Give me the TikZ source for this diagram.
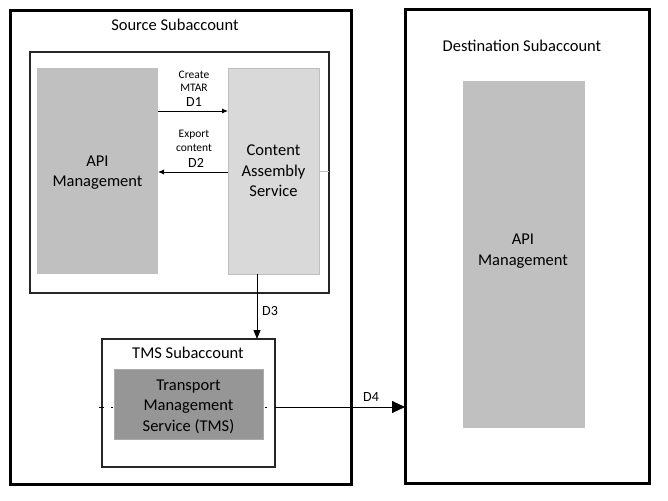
\documentclass[tikz,border=0pt]{standalone}
\usepackage{fontspec}
\setmainfont{Carlito}
\usetikzlibrary{arrows.meta}
\definecolor{apigray}{RGB}{192,192,192}
\definecolor{casgray}{RGB}{217,217,217}
\definecolor{casline}{RGB}{190,190,190}
\definecolor{tmsgray}{RGB}{150,150,150}
\definecolor{tmsline}{RGB}{170,170,170}
\begin{document}
\begin{tikzpicture}[x=1pt,y=-1pt,
  every node/.style={inner sep=0pt,outer sep=0pt},
  bigbox/.style={draw=black,line width=3pt,anchor=north west},
  midbox/.style={draw=black!85,line width=1.2pt,anchor=north west},
  block/.style={anchor=north west},
  maintext/.style={align=center,font=\fontsize{16.5}{20.5}\selectfont},
  smalltext/.style={align=center,font=\fontsize{11.5}{13.5}\selectfont},
  dtext/.style={font=\fontsize{14}{16}\selectfont},
  smallarrow/.style={line width=0.9pt,-{Latex[length=6pt,width=5pt]}},
  bigarrow/.style={line width=0.9pt,-{Triangle[length=13pt,width=12pt]}},
  midarrow/.style={line width=0.9pt,-{Triangle[length=9pt,width=7pt]}},
  stub/.style={line width=0.8pt,draw=black}]
\useasboundingbox (0,0) rectangle (668,500);
% outer subaccounts
\node[bigbox,minimum width=341pt,minimum height=473pt] (src) at (10,11) {};
\node[bigbox,minimum width=244pt,minimum height=473pt] (dst) at (405,10) {};
\node[maintext] (srctitle) at (175,24.5) {Source Subaccount};
\node[maintext] (dsttitle) at (522,45.5) {Destination Subaccount};
% inner box
\node[midbox,minimum width=299pt,minimum height=241pt] (inner) at (30,52) {};
\node[block,fill=apigray,minimum width=121pt,minimum height=206pt] (api) at (37,68) {};
\node[maintext] (apitext) at (97.5,172.5) {API\\Management};
\node[block,fill=casgray,draw=casline,line width=0.8pt,minimum width=91pt,minimum height=206pt] (cas) at (228,68) {};
\node[maintext] (castext) at (273.5,171) {Content\\Assembly\\Service};
% TMS subaccount
\node[midbox,line width=1.5pt,minimum width=173pt,minimum height=128pt] (tmsacc) at (102,339) {};
\node[maintext] (tmstitle) at (188,353) {TMS Subaccount};
% stubs of hidden line
\coordinate (y407) at (0,407);
\draw[stub] (99,407) -- (104,407);
\draw[stub] (111,407) -- (113,407);
\draw[stub] (265,407) -- (267,407);
\node[block,fill=tmsgray,draw=tmsline,line width=0.8pt,minimum width=149pt,minimum height=70pt] (tms) at (114,369) {};
\node[maintext] (tmstext) at (188.5,406.5) {Transport\\Management\\Service (TMS)};
% destination API management
\node[block,fill=apigray,minimum width=122pt,minimum height=347pt] (dapi) at (463,81) {};
\node[maintext] (dapitext) at (523,251) {API\\Management};
% coordinates
\coordinate (y111) at (0,111);
\coordinate (y172) at (0,172);
\coordinate (x257) at (257,0);
\coordinate (y171) at (0,171);
% arrows
\draw[smallarrow] (api.east |- y111) -- (cas.west |- y111);
\draw[smallarrow] (cas.west |- y172) -- (api.east |- y172);
\draw[draw=casline,line width=0.8pt] (cas.east |- y171) -- (inner.east |- y171);
\draw[midarrow] (cas.south -| x257) -- (tmsacc.north -| x257);
\draw[bigarrow] (tmsacc.east |- y407) -- (dst.west |- y407);
% labels
\node[smalltext] (d1a) at (194,81.5) {Create\\MTAR};
\node[dtext] (d1) at (194,102) {D1};
\node[smalltext] (d2a) at (194,141) {Export\\content};
\node[dtext] (d2) at (196,163) {D2};
\node[dtext] (d3) at (270,311.5) {D3};
\node[dtext] (d4) at (371,396.5) {D4};
\end{tikzpicture}
\end{document}
